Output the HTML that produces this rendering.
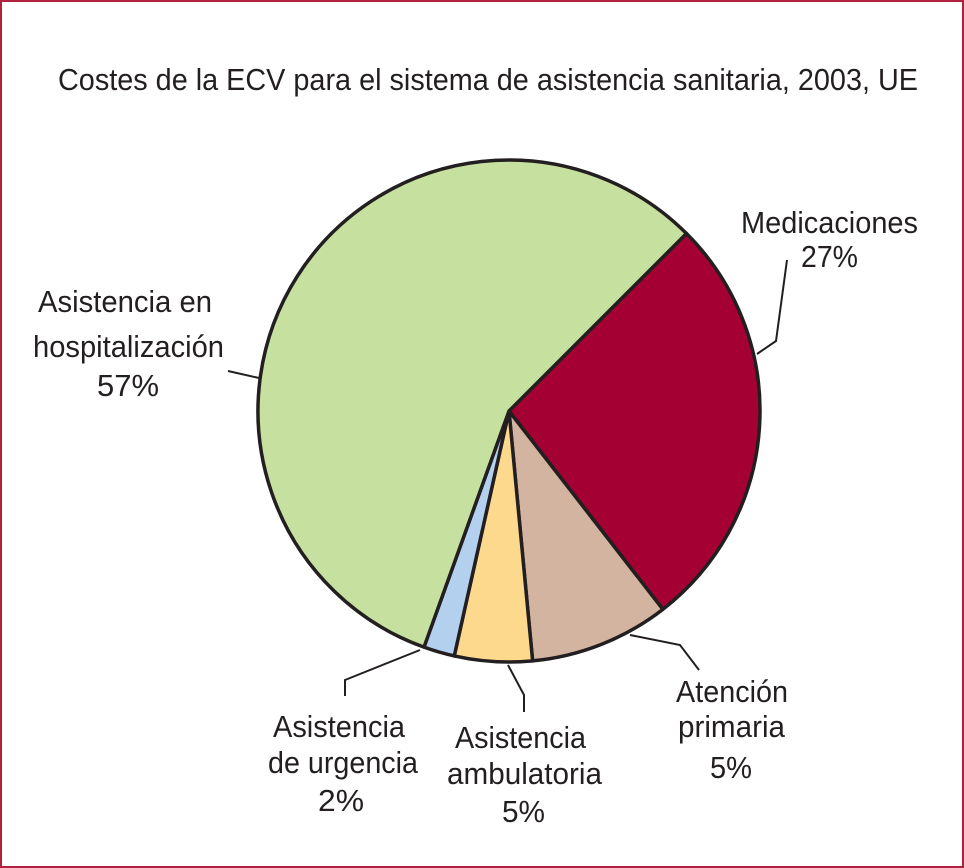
<!DOCTYPE html>
<html><head><meta charset="utf-8"><style>
html,body{margin:0;padding:0;background:#fff}
svg{display:block}
text{font-family:"Liberation Sans Narrow","Liberation Sans",sans-serif;fill:#231f20;font-size:31px}
</style></head><body>
<svg id="c" width="964" height="868" viewBox="0 0 964 868">
<rect x="1" y="1" width="962" height="866" fill="#fff" stroke="#b0223e" stroke-width="2"/>
<text x="58" y="90" textLength="860" lengthAdjust="spacingAndGlyphs">Costes de la ECV para el sistema de asistencia sanitaria, 2003, UE</text>
<g id="slices"></g>
<g id="leaders" fill="none" stroke="#231f20" stroke-width="2">
<polyline points="757,354 776,341 787,260"/>
<polyline points="630,635 680,645 699,670"/>
<polyline points="508,665 524,695 524,712"/>
<polyline points="420,650 345,680 345,696"/>
<polyline points="259,378 228,371"/>
</g>
<g lengthAdjust="spacingAndGlyphs">
<g>
<text x="741" y="233" textLength="177" lengthAdjust="spacingAndGlyphs">Medicaciones</text>
<text x="801" y="267" textLength="57" lengthAdjust="spacingAndGlyphs">27%</text>
</g>
<g>
<text x="676" y="702" textLength="112" lengthAdjust="spacingAndGlyphs">Atención</text>
<text x="678" y="737" textLength="107" lengthAdjust="spacingAndGlyphs">primaria</text>
<text x="710" y="778" textLength="42" lengthAdjust="spacingAndGlyphs">5%</text>
</g>
<g>
<text x="455" y="748" textLength="131" lengthAdjust="spacingAndGlyphs">Asistencia</text>
<text x="447" y="784" textLength="155" lengthAdjust="spacingAndGlyphs">ambulatoria</text>
<text x="502" y="822" textLength="43" lengthAdjust="spacingAndGlyphs">5%</text>
</g>
<g>
<text x="273" y="737" textLength="132" lengthAdjust="spacingAndGlyphs">Asistencia</text>
<text x="268" y="773" textLength="150" lengthAdjust="spacingAndGlyphs">de urgencia</text>
<text x="318" y="811" textLength="46" lengthAdjust="spacingAndGlyphs">2%</text>
</g>
<g>
<text x="38" y="312" textLength="174" lengthAdjust="spacingAndGlyphs">Asistencia en</text>
<text x="33" y="357" textLength="191" lengthAdjust="spacingAndGlyphs">hospitalización</text>
<text x="97" y="396" textLength="62" lengthAdjust="spacingAndGlyphs">57%</text>
</g>
</g>
</svg>
<script>
const categories=["Medicaciones","Atención primaria","Asistencia ambulatoria","Asistencia de urgencia","Asistencia en hospitalización"];
const values=[27,9,5,2,57];
const colors=["#a50034","#d3b4a0","#fdd98e","#b3d1ef","#c6e0a0"];
const cx=509,cy=411,r=251,start=-45;
const g=document.getElementById('slices');
const total=values.reduce((a,b)=>a+b,0);
let a=start;
function pt(deg){const t=deg*Math.PI/180;return [cx+r*Math.cos(t),cy+r*Math.sin(t)];}
values.forEach((v,i)=>{
  const a2=a+v/total*360;
  const p1=pt(a),p2=pt(a2);
  const large=(a2-a)>180?1:0;
  const p=document.createElementNS('http://www.w3.org/2000/svg','path');
  p.setAttribute('d',`M${cx},${cy} L${p1[0]},${p1[1]} A${r},${r} 0 ${large} 1 ${p2[0]},${p2[1]} Z`);
  p.setAttribute('fill',colors[i]);
  p.setAttribute('stroke','#231f20');
  p.setAttribute('stroke-width','3.5');
  p.setAttribute('stroke-linejoin','round');
  
  
  g.appendChild(p);
  a=a2;
});
</script>
</body></html>
